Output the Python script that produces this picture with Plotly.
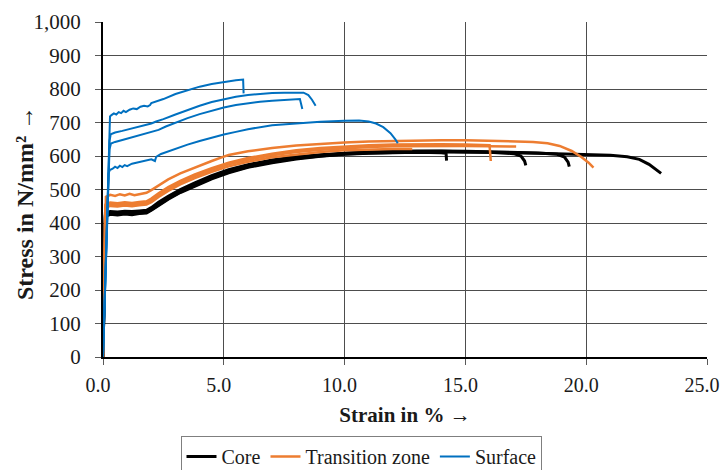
import plotly.graph_objects as go

# ---------------- data ----------------
# Core (black)
core1_strain = [0, 0.1, 0.3, 0.6, 0.9, 1.2, 1.5, 1.8, 2.0, 2.3, 2.7, 3.2, 3.8, 4.5, 5.2, 6.0, 7.0, 8.0, 9.0, 10.0, 11.0, 12.0, 13.0, 14.0, 14.2, 14.22]
core1_stress = [0, 420, 426, 424, 427, 425, 428, 430, 438, 453, 471, 491, 511, 532, 550, 566, 580, 591, 599, 605, 608, 610, 611, 610, 608, 586]
core2_strain = [0, 0.1, 0.3, 0.6, 0.9, 1.2, 1.5, 1.8, 2.0, 2.3, 2.7, 3.2, 3.8, 4.5, 5.2, 6.0, 7.0, 8.0, 9.0, 10.0, 11.0, 12.0, 13.0, 14.0, 15.0, 16.0, 17.0, 17.3, 17.45, 17.5]
core2_stress = [0, 425, 431, 430, 432, 431, 433, 435, 443, 458, 476, 496, 516, 537, 555, 570, 585, 595, 602, 608, 611, 613, 614, 614, 613, 611, 607, 600, 585, 572]
core3_strain = [0, 0.1, 0.3, 0.6, 0.9, 1.2, 1.5, 1.8, 2.0, 2.3, 2.7, 3.2, 3.8, 4.5, 5.2, 6.0, 7.0, 8.0, 9.0, 10.0, 11.0, 12.0, 13.0, 14.0, 15.0, 16.0, 17.0, 18.0, 18.8, 19.1, 19.25, 19.3]
core3_stress = [0, 430, 434, 433, 435, 434, 436, 438, 446, 462, 480, 500, 520, 541, 559, 574, 588, 598, 604, 609, 612, 614, 615, 615, 614, 613, 611, 609, 605, 597, 582, 568]
core4_strain = [0, 0.1, 0.3, 0.6, 0.9, 1.2, 1.5, 1.8, 2.0, 2.3, 2.7, 3.2, 3.8, 4.5, 5.2, 6.0, 7.0, 8.0, 9.0, 10.0, 11.0, 12.0, 13.0, 14.0, 15.0, 16.0, 17.0, 18.0, 19.0, 20.0, 21.0, 21.7, 22.2, 22.6, 22.9, 23.1]
core4_stress = [0, 422, 428, 427, 429, 428, 430, 432, 440, 455, 473, 493, 513, 534, 552, 568, 582, 593, 600, 606, 609, 611, 612, 612, 612, 611, 610, 608, 606, 604, 602, 598, 590, 575, 560, 548]

# Transition zone (orange)
trans1_strain = [0, 0.12, 0.3, 0.5, 0.7, 0.9, 1.1, 1.3, 1.5, 1.7, 1.8, 2.0, 2.3, 2.7, 3.2, 3.8, 4.5, 5.0, 5.2, 6.0, 7.0, 8.0, 9.0, 10.0, 11.0, 12.0, 13.0, 14.0, 15.0, 16.0, 17.0, 17.8, 18.4, 18.9, 19.4, 19.8, 20.1, 20.3]
trans1_stress = [0, 478, 484, 481, 486, 482, 487, 483, 486, 488, 490, 498, 512, 530, 548, 566, 585, 598, 603, 614, 624, 631, 636, 640, 643, 645, 646, 647, 647, 646, 645, 642, 638, 630, 615, 597, 580, 565]
trans2_strain = [0, 0.1, 0.3, 0.6, 0.9, 1.2, 1.5, 1.8, 2.0, 2.3, 2.7, 3.2, 3.8, 4.5, 5.2, 6.0, 7.0, 8.0, 9.0, 10.0, 11.0, 12.0, 13.0, 14.0, 15.0, 16.0, 16.05]
trans2_stress = [0, 455, 461, 459, 462, 460, 463, 465, 473, 489, 507, 526, 545, 564, 580, 594, 607, 617, 624, 629, 632, 634, 635, 635, 634, 632, 585]
trans3_strain = [0, 0.1, 0.3, 0.6, 0.9, 1.2, 1.5, 1.8, 2.0, 2.3, 2.7, 3.2, 3.8, 4.5, 5.2, 6.0, 7.0, 8.0, 9.0, 10.0, 11.0, 12.0, 13.0, 14.0, 15.0, 16.0, 17.1]
trans3_stress = [0, 450, 456, 454, 457, 455, 458, 460, 468, 484, 502, 521, 540, 559, 575, 589, 602, 612, 619, 624, 627, 629, 630, 630, 630, 629, 628]
trans4_strain = [0, 0.1, 0.3, 0.6, 0.9, 1.2, 1.5, 1.8, 2.0, 2.3, 2.7, 3.2, 3.8, 4.5, 5.2, 6.0, 7.0, 8.0, 9.0, 10.0, 11.0, 12.0, 12.8]
trans4_stress = [0, 445, 451, 449, 452, 450, 453, 455, 462, 478, 496, 515, 534, 553, 569, 583, 596, 605, 612, 617, 620, 621, 621]

# Surface (blue)
surf1_strain = [0, 0.29, 0.35, 0.45, 0.55, 0.65, 0.75, 0.85, 0.95, 1.1, 1.25, 1.4, 1.55, 1.7, 1.85, 1.95, 2.0, 2.2, 2.5, 3.0, 3.5, 4.0, 4.5, 5.0, 5.5, 5.8, 5.82]
surf1_stress = [0, 718, 722, 727, 724, 731, 728, 735, 731, 738, 742, 740, 747, 750, 748, 752, 758, 762, 770, 785, 797, 807, 815, 821, 826, 828, 787]
surf2_strain = [0, 0.27, 0.32, 0.5, 0.8, 1.1, 1.4, 1.7, 2.0, 2.2, 2.5, 3.0, 3.5, 4.0, 4.5, 5.0, 5.5, 6.0, 6.5, 7.0, 7.5, 8.0, 8.3, 8.5, 8.65, 8.8]
surf2_stress = [0, 645, 665, 670, 675, 680, 685, 690, 697, 703, 710, 724, 738, 750, 761, 770, 777, 782, 786, 788, 789, 790, 789, 782, 768, 750]
surf3_strain = [0, 0.27, 0.33, 0.5, 0.8, 1.1, 1.4, 1.7, 2.0, 2.3, 2.6, 3.0, 3.5, 4.0, 4.5, 5.0, 5.5, 6.0, 6.5, 7.0, 7.5, 8.0, 8.15, 8.2, 8.25]
surf3_stress = [0, 620, 637, 642, 648, 654, 659, 664, 670, 678, 688, 700, 713, 725, 736, 745, 752, 758, 762, 765, 767, 769, 770, 755, 740]
surf4_strain = [0, 0.23, 0.28, 0.4, 0.5, 0.6, 0.7, 0.8, 0.9, 1.0, 1.2, 1.4, 1.6, 1.8, 2.0, 2.15, 2.2, 2.4, 2.7, 3.0, 3.5, 4.0, 4.5, 5.0, 5.5, 6.0, 7.0, 8.0, 9.0, 10.0, 10.6, 11.0, 11.3, 11.6, 11.9, 12.1, 12.2]
surf4_stress = [0, 548, 558, 562, 568, 564, 571, 567, 573, 570, 577, 580, 584, 588, 590, 585, 597, 606, 614, 623, 634, 645, 655, 664, 672, 680, 692, 698, 702, 705, 706, 703, 697, 686, 668, 650, 638]

group_names = ["Core", "Transition zone", "Surface"]
group_colors = ["#000000", "#ED7D31", "#0070C0"]
group_widths = [3, 2.5, 2]
groups = [
    [(core1_strain, core1_stress), (core2_strain, core2_stress), (core3_strain, core3_stress), (core4_strain, core4_stress)],
    [(trans1_strain, trans1_stress), (trans2_strain, trans2_stress), (trans3_strain, trans3_stress), (trans4_strain, trans4_stress)],
    [(surf1_strain, surf1_stress), (surf2_strain, surf2_stress), (surf3_strain, surf3_stress), (surf4_strain, surf4_stress)],
]

x_ticks = [0, 5, 10, 15, 20, 25]
x_tick_labels = ["0.0", "5.0", "10.0", "15.0", "20.0", "25.0"]
y_ticks = [0, 100, 200, 300, 400, 500, 600, 700, 800, 900, 1000]

x_title = "Strain in % →"
y_title = "Stress in N/mm² →"

FONT = "Liberation Serif"
FS = 21
TXT = "#1a1a1a"

fig = go.Figure()
for name, color, width, curves in zip(group_names, group_colors, group_widths, groups):
    for i, (xs, ys) in enumerate(curves):
        fig.add_trace(go.Scatter(
            x=xs, y=ys, mode="lines", name=name, legendgroup=name,
            showlegend=(i == 0),
            line=dict(color=color, width=width),
        ))

fig.update_layout(
    width=721, height=470,
    margin=dict(l=103, r=14, t=22, b=113, autoexpand=False),
    paper_bgcolor="white", plot_bgcolor="white",
    font=dict(family=FONT, size=FS, color=TXT),
    showlegend=True,
    legend=dict(
        orientation="h", x=0.4288, xanchor="center", y=-0.236, yanchor="top",
        bordercolor="#7f7f7f", borderwidth=1, bgcolor="white",
        font=dict(family=FONT, size=20, color=TXT),
        itemwidth=30, tracegroupgap=0,
    ),
    annotations=[
        dict(
            text="<b>" + y_title + "</b>", textangle=-90,
            xref="paper", yref="paper", x=-0.129, y=0.46,
            xanchor="center", yanchor="middle", showarrow=False,
            font=dict(family=FONT, size=24, color=TXT),
        )
    ],
)

fig.update_xaxes(
    range=[0, 25], tickvals=x_ticks, ticktext=x_tick_labels,
    tickfont=dict(family=FONT, size=20, color=TXT),
    showgrid=True, gridcolor="#4d4d4d", gridwidth=1,
    showline=True, linecolor="black", linewidth=2,
    ticks="outside", ticklen=6, tickcolor="#595959", tickwidth=1,
    ticklabelstandoff=3, ticklabelshift=-5, ticklabeloverflow="allow",
    zeroline=False, automargin=False,
    title=dict(text="<b>" + x_title + "</b>", font=dict(family=FONT, size=FS, color=TXT), standoff=12),
)
fig.update_yaxes(
    range=[0, 1000], tickvals=y_ticks, tickformat=",d",
    showgrid=True, gridcolor="#4d4d4d", gridwidth=1,
    showline=True, linecolor="black", linewidth=2,
    ticks="outside", ticklen=6, tickcolor="#595959", tickwidth=1,
    ticklabelstandoff=10, ticklabeloverflow="allow",
    zeroline=False, automargin=False,
)

fig.write_html("out.html")
